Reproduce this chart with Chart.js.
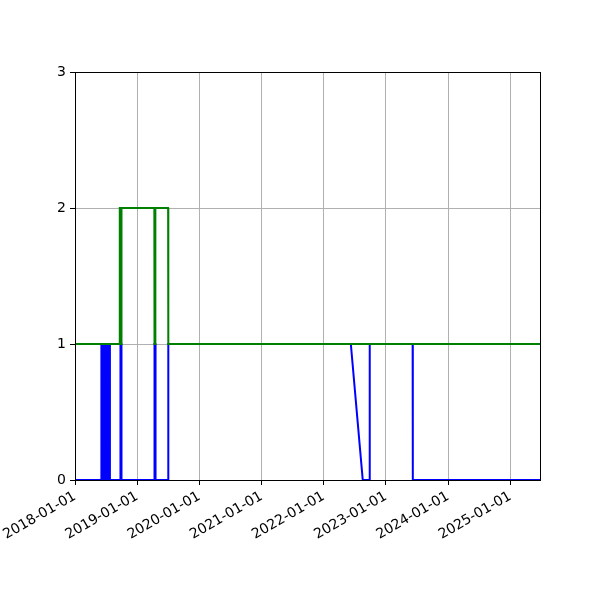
<!DOCTYPE html>
<html>
<head>
<meta charset="utf-8">
<script src="https://cdn.jsdelivr.net/npm/chart.js@4/dist/chart.umd.min.js"></script>
<style>
  html, body { margin:0; padding:0; background:#fff; }
  #wrap { width:600px; height:600px; }
</style>
</head>
<body>
<div id="wrap"><canvas id="chart" width="600" height="600"></canvas></div>
<script>

// ============================
// DATA
// ============================

const blueDates = [
  "2018-01-01","2018-06-04","2018-06-05","2018-06-11","2018-06-12",
  "2018-06-22","2018-06-23","2018-06-28","2018-06-29","2018-07-04",
  "2018-07-05","2018-07-10","2018-07-11","2018-07-16","2018-07-17",
  "2018-07-24","2018-07-25","2018-09-24","2018-09-25","2018-09-30",
  "2018-10-01","2019-04-12","2019-04-13","2019-04-18","2019-04-19",
  "2019-07-02","2019-07-03","2022-06-09","2022-08-18","2022-09-27",
  "2022-09-28","2023-06-07","2023-06-08","2025-06-24"
];
const blueValues = [
  0,0,1,1,0,
  0,1,1,0,0,
  1,1,0,0,1,
  1,0,0,1,1,
  0,0,1,1,0,
  0,1,1,0,0,
  1,1,0,0
];

const greenDates = [
  "2018-01-01","2018-09-20","2018-09-21","2018-09-25","2018-09-26",
  "2018-09-30","2018-10-01","2019-04-12","2019-04-13","2019-04-17",
  "2019-04-18","2019-07-02","2019-07-03","2025-06-24"
];
const greenValues = [
  1,1,2,2,1,
  1,2,2,1,1,
  2,2,1,1
];

const tickYears = [2018,2019,2020,2021,2022,2023,2024,2025];
const yTicks = [0,1,2,3];

const xMin = "2018-01-01";
const xMax = "2025-06-24";


// ============================
// HELPERS
// ============================

function toMs(d){
  return Date.parse(d + "T00:00:00Z");
}

function toPoints(dates, values){
  return dates.map((d,i)=>({ x: toMs(d), y: values[i] }));
}

function fmtDate(ms){
  return new Date(ms).toISOString().slice(0,10);
}

// top + right spines (matplotlib box)
const frame = {
  id:"frame",
  afterDraw(chart){
    const a = chart.chartArea;
    const ctx = chart.ctx;
    ctx.save();
    ctx.strokeStyle = "#000";
    ctx.lineWidth = 1;
    ctx.strokeRect(Math.round(a.left)+0.5, Math.round(a.top)+0.5,
      Math.round(a.right-a.left), Math.round(a.bottom-a.top));
    ctx.restore();
  }
};


// ============================
// CHART
// ============================

Chart.defaults.font.family = "'DejaVu Sans', sans-serif";
Chart.defaults.font.size = 14;
Chart.defaults.color = "#000";

new Chart(document.getElementById("chart"),{
  type:"line",
  data:{
    datasets:[
      {
        label:"blue",
        data:toPoints(blueDates, blueValues),
        borderColor:"#0000ff",
        borderWidth:2,
        pointRadius:0,
        tension:0,
        order:2
      },
      {
        label:"green",
        data:toPoints(greenDates, greenValues),
        borderColor:"#008000",
        borderWidth:2,
        pointRadius:0,
        tension:0,
        order:1
      }
    ]
  },
  options:{
    responsive:false,
    animation:false,
    layout:{ padding:{ left:0, right:60, top:72, bottom:0 } },
    plugins:{
      legend:{ display:false },
      tooltip:{ enabled:false }
    },
    scales:{
      x:{
        type:"linear",
        min:toMs(xMin),
        max:toMs(xMax),
        afterBuildTicks(s){
          s.ticks = tickYears.map(y=>({ value: Date.UTC(y,0,1) }));
        },
        afterFit(s){ s.height = 120; },
        ticks:{
          autoSkip:false,
          minRotation:30,
          maxRotation:30,
          padding:3,
          callback:(v)=>fmtDate(v)
        },
        grid:{
          color:"#b0b0b0",
          lineWidth:1,
          tickColor:"#000",
          tickLength:5
        },
        border:{ color:"#000", width:1 }
      },
      y:{
        type:"linear",
        min:0,
        max:3,
        afterBuildTicks(s){
          s.ticks = yTicks.map(v=>({ value:v }));
        },
        afterFit(s){ s.width = 75; },
        ticks:{ padding:4 },
        grid:{
          color:"#b0b0b0",
          lineWidth:1,
          tickColor:"#000",
          tickLength:5
        },
        border:{ color:"#000", width:1 }
      }
    }
  },
  plugins:[frame]
});

</script>
</body>
</html>
